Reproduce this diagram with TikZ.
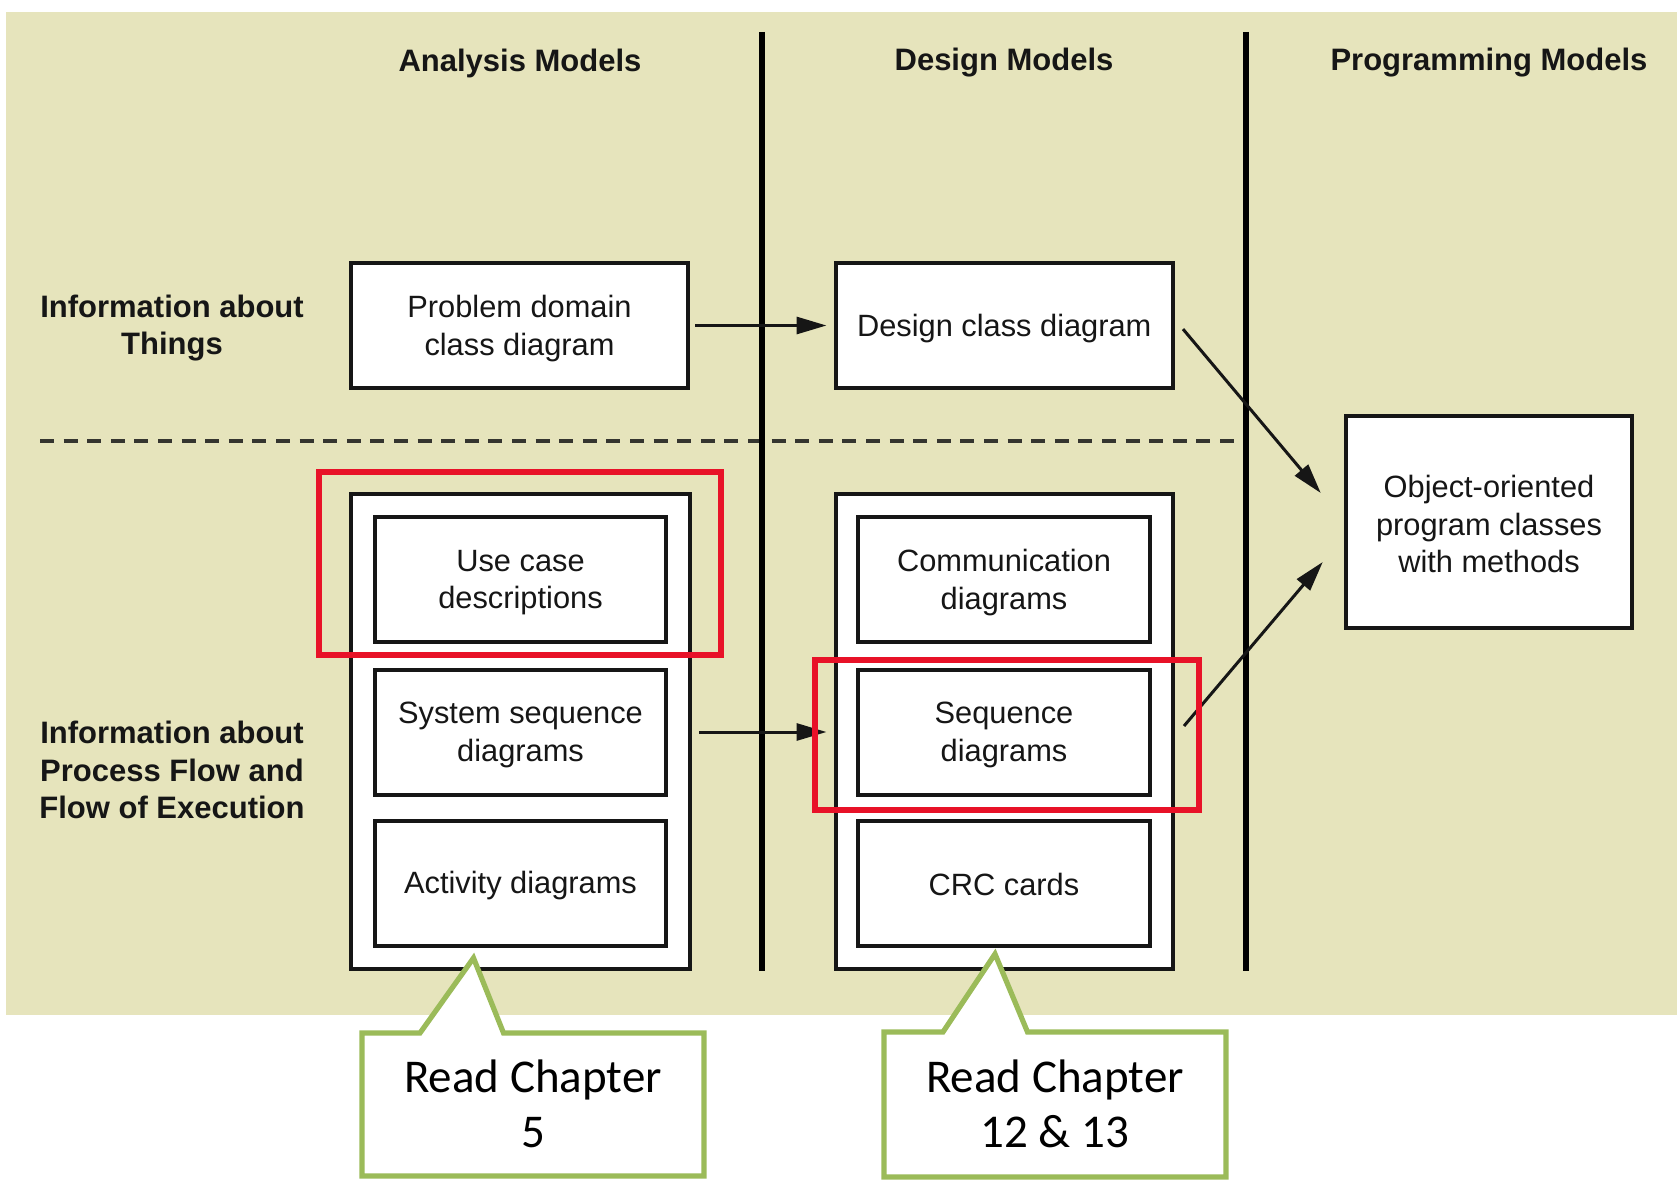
\documentclass[tikz,border=0pt]{standalone}
\usepackage{fontspec}
\setmainfont{Liberation Sans}
\newfontfamily\calfont{Carlito}
\usetikzlibrary{arrows.meta,calc}
\definecolor{bgcol}{RGB}{230,228,188}
\definecolor{redbox}{RGB}{232,18,40}
\definecolor{greenbox}{RGB}{155,187,89}
\definecolor{ink}{RGB}{22,22,22}
\begin{document}
\begin{tikzpicture}[x=0.5pt,y=-0.5pt,
  txt/.style={font=\fontsize{15.4}{18.75}\selectfont,text=ink,align=center,inner sep=0pt},
  head/.style={font=\bfseries\fontsize{15.5}{18.75}\selectfont,text=ink,align=center,inner sep=0pt},
  box/.style={draw=ink,fill=white,line width=2pt,inner sep=0pt,outer sep=0pt},
  topbox/.style={box,minimum width=168.5pt,minimum height=62.5pt},
  outerbox/.style={box,minimum width=169pt,minimum height=237.5pt},
  innerbox/.style={box,minimum width=145.5pt,minimum height=62.5pt},
  divider/.style={draw=black,line width=3.3pt},
  arr/.style={draw=ink,line width=1.5pt,-{Triangle[length=15pt,width=8.5pt]}},
  hilite/.style={draw=redbox,line width=3pt},
  callout/.style={draw=greenbox,fill=white,line width=2.6pt,line join=miter},
  calltext/.style={font=\calfont\fontsize{23.5}{27.8}\selectfont,text=black,align=center,inner sep=0pt}
]
\useasboundingbox (0,0) rectangle (1680,1182);
% background
\fill[bgcol] (6,12) rectangle (1677,1015);

% headers
\node[head] (hA) at (520,63) {Analysis Models};
\node[head] (hD) at (1004,63) {Design Models};
\node[head] (hP) at (1489,63) {Programming Models};

% row labels
\node[head] (rT) at (172,328) {Information about\\Things};
\node[head] (rP) at (172,770) {Information about\\Process Flow and\\Flow of Execution};

% dashed separator
\coordinate (dashL) at (40,441);
\coordinate (dashR) at (1242,441);
\draw[draw=ink!85!bgcol,line width=1.8pt,dash pattern=on 7pt off 4.8pt] (dashL) -- (dashR);

% vertical dividers
\coordinate (v1t) at (762,32);
\coordinate (v1b) at (762,971);
\coordinate (v2t) at (1246,32);
\coordinate (v2b) at (1246,971);
\draw[divider] (v1t) -- (v1b);
\draw[divider] (v2t) -- (v2b);

% top row boxes
\node[topbox] (PD) at (519.5,325.5) {};
\node[topbox,minimum width=168.75pt] (DC) at (1004.25,325.5) {};

% outer boxes
\node[outerbox,minimum width=169.5pt] (AO) at (520.5,731.5) {};
\node[outerbox,minimum width=168.75pt] (DO) at (1004.25,731.5) {};

% analysis inner boxes
\node[innerbox] (UC) at (520.5,579.5) {};
\node[innerbox] (SSD) at (520.5,732) {};
\node[innerbox] (ACT) at (520.5,883) {};

% design inner boxes
\node[innerbox,minimum width=146pt] (COM) at (1004,579.5) {};
\node[innerbox,minimum width=146pt] (SEQ) at (1004,732) {};
\node[innerbox,minimum width=146pt] (CRC) at (1004,883) {};

% programming box
\node[box,minimum width=143.25pt,minimum height=106pt] (OO) at (1489,522) {};

% box texts
\node[txt] (tPD) at ($(PD)+(0,3)$) {Problem domain\\class diagram};
\node[txt] (tDC) at ($(DC)+(0,3)$) {Design class diagram};
\node[txt] (tUC) at ($(UC)+(0,3)$) {Use case\\descriptions};
\node[txt] (tSSD) at ($(SSD)+(0,3)$) {System sequence\\diagrams};
\node[txt] (tACT) at ($(ACT)+(0,3)$) {Activity diagrams};
\node[txt] (tCOM) at ($(COM)+(0,3)$) {Communication\\diagrams};
\node[txt] (tSEQ) at ($(SEQ)+(0,3)$) {Sequence\\diagrams};
\node[txt] (tCRC) at ($(CRC)+(0,1)$) {CRC cards};
\node[txt] (tOO) at ($(OO)+(0,2)$) {Object-oriented\\program classes\\with methods};

% arrows
\draw[arr] ([xshift=3.5pt]PD.east) -- ([xshift=-4.5pt]DC.west);
\draw[arr] ([xshift=4.5pt]AO.east |- SSD.east) -- ([xshift=-4.5pt]DO.west |- SEQ.west);
\draw[arr] ([xshift=5pt,yshift=-1.8pt]DC.east) -- ([xshift=-12.5pt,yshift=14.5pt]OO.west);
\draw[arr] ([xshift=5.5pt,yshift=3pt]DO.east |- SEQ.east) -- ([xshift=-11.5pt,yshift=-20pt]OO.west);

% red highlights
\node[hilite,minimum width=201pt,minimum height=91.5pt,inner sep=0pt] (R1) at (520,563.5) {};
\node[hilite,minimum width=192pt,minimum height=75pt,inner sep=0pt] (R2) at (1007,735) {};

% callouts
\coordinate (t1) at (473.5,958);
\coordinate (t2) at (995,954);
\draw[callout] (362,1033) -- (420,1033) -- (t1) -- (503.5,1033) -- (704,1033)
  -- (704,1176) -- (362,1176) -- cycle;
\draw[callout] (884,1032) -- (943,1032) -- (t2) -- (1027.5,1032) -- (1226,1032)
  -- (1226,1177) -- (884,1177) -- cycle;
\node[calltext] (c1) at (533,1104) {Read Chapter\\5};
\node[calltext] (c2) at (1055,1104) {Read Chapter\\12 \& 13};
\end{tikzpicture}
\end{document}
